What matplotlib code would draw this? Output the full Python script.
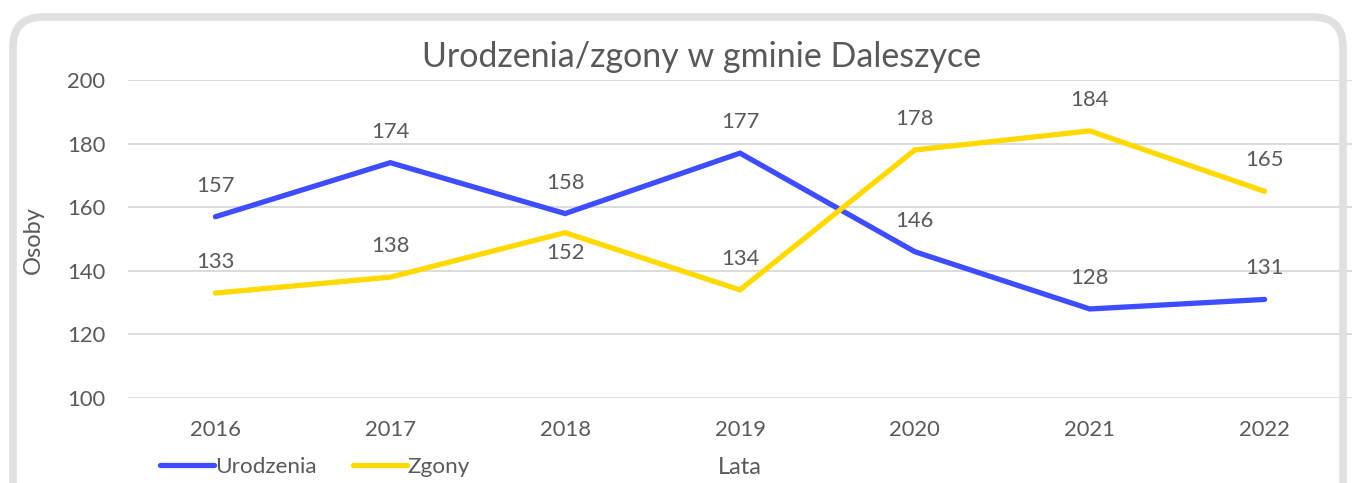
import matplotlib
matplotlib.use("Agg")
import matplotlib.pyplot as plt
from matplotlib.patches import FancyBboxPatch
from matplotlib.lines import Line2D

years = ["2016", "2017", "2018", "2019", "2020", "2021", "2022"]
urodzenia = [157, 174, 158, 177, 146, 128, 131]
zgony = [133, 138, 152, 134, 178, 184, 165]
yticks = [100, 120, 140, 160, 180, 200]

BLUE = "#3D4DFF"
YELLOW = "#FFD900"
TXT = "#595959"
GRID = "#D9D9D9"

plt.rcParams['font.family'] = ['Lato', 'DejaVu Sans']

W, H, DPI = 1352, 483, 100
fig = plt.figure(figsize=(W / DPI, H / DPI), dpi=DPI)
fig.patch.set_facecolor("white")

# rounded frame
frame = FancyBboxPatch((13, -40), 1330, 506, boxstyle="round,pad=0,rounding_size=30",
                       transform=None, facecolor="none", edgecolor="#E0E0E0", linewidth=5.5,
                       zorder=0)
fig.patches.append(frame)

ax = fig.add_axes([128 / W, 85 / H, (W - 128) / W, (398 - 80) / H])
ax.set_facecolor("none")
x = list(range(len(years)))
ax.plot(x, urodzenia, color=BLUE, lw=3.8, solid_capstyle="round", solid_joinstyle="miter", zorder=3)
ax.plot(x, zgony, color=YELLOW, lw=3.8, solid_capstyle="round", solid_joinstyle="miter", zorder=3)

FS = 15.8
for xi, v in zip(x, urodzenia):
    ax.annotate(str(v), (xi, v), xytext=(0, 31), textcoords="offset pixels",
                ha="center", va="center", fontsize=FS, color=TXT)
for xi, v in zip(x, zgony):
    off = -20 if v == 152 else 31
    ax.annotate(str(v), (xi, v), xytext=(0, off), textcoords="offset pixels",
                ha="center", va="center", fontsize=FS, color=TXT)

ax.set_xlim(-0.5, len(years) - 0.5)
ax.set_ylim(100, 200)
ax.set_yticks(yticks)
ax.set_xticks(x)
ax.set_xticklabels(years)
ax.grid(axis="y", color=GRID, lw=1.3)
ax.set_axisbelow(True)
for s in ax.spines.values():
    s.set_visible(False)
ax.tick_params(axis="both", length=0, labelsize=FS, labelcolor=TXT)
ax.tick_params(axis="x", pad=16)
ax.tick_params(axis="y", pad=16.5)

fig.text(702 / W, 1 - 57 / H, "Urodzenia/zgony w gminie Daleszyce", ha="center", va="center",
         fontsize=24.5, color=TXT)
fig.text(33 / W, 1 - 240 / H, "Osoby", rotation=90, ha="center", va="center", fontsize=17, color=TXT)
fig.text(740 / W, 1 - 467 / H, "Lata", ha="center", va="center", fontsize=17, color=TXT)

# legend
handles = [Line2D([0], [0], color=BLUE, lw=3.8, solid_capstyle="round"),
           Line2D([0], [0], color=YELLOW, lw=3.8, solid_capstyle="round")]
leg = fig.legend(handles, ["Urodzenia", "Zgony"], loc="center left",
                 bbox_to_anchor=(160 / W, 1 - 467 / H), ncol=2, frameon=False,
                 fontsize=16.2, handlelength=2.4, handletextpad=0.05, columnspacing=1.6,
                 borderaxespad=0, borderpad=0)
for t in leg.get_texts():
    t.set_color(TXT)

fig.savefig("out.png", dpi=DPI, facecolor="white")
